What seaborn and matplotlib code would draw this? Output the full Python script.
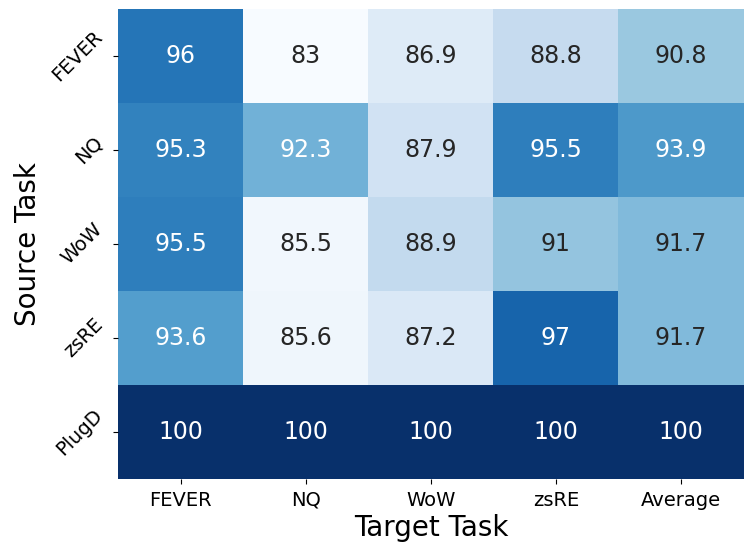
import numpy as np
import pandas as pd
import matplotlib.pyplot as plt
import seaborn as sns

source_tasks = ['FEVER', 'NQ', 'WoW', 'zsRE', 'PlugD']
target_tasks = ['FEVER', 'NQ', 'WoW', 'zsRE', 'Average']

fever_row = [96, 83, 86.9, 88.8, 90.8]
nq_row = [95.3, 92.3, 87.9, 95.5, 93.9]
wow_row = [95.5, 85.5, 88.9, 91, 91.7]
zsre_row = [93.6, 85.6, 87.2, 97, 91.7]
plugd_row = [100, 100, 100, 100, 100]

df = pd.DataFrame([fever_row, nq_row, wow_row, zsre_row, plugd_row],
                  index=source_tasks, columns=target_tasks)

fig, ax = plt.subplots(figsize=(7.48, 5.46), dpi=100)
sns.heatmap(df, annot=True, fmt='g', cmap='Blues', cbar=False,
            vmin=85, vmax=100, annot_kws={'size': 17}, ax=ax)
ax.set_xlabel('Target Task', fontsize=20, labelpad=3)
ax.set_ylabel('Source Task', fontsize=20, labelpad=5)
ax.tick_params(axis='both', labelsize=14, pad=5)
plt.setp(ax.get_yticklabels(), rotation=45, va='center')
plt.setp(ax.get_xticklabels(), rotation=0)
plt.subplots_adjust(left=0.158, right=0.994, top=0.984, bottom=0.123)
plt.savefig('out.png')
